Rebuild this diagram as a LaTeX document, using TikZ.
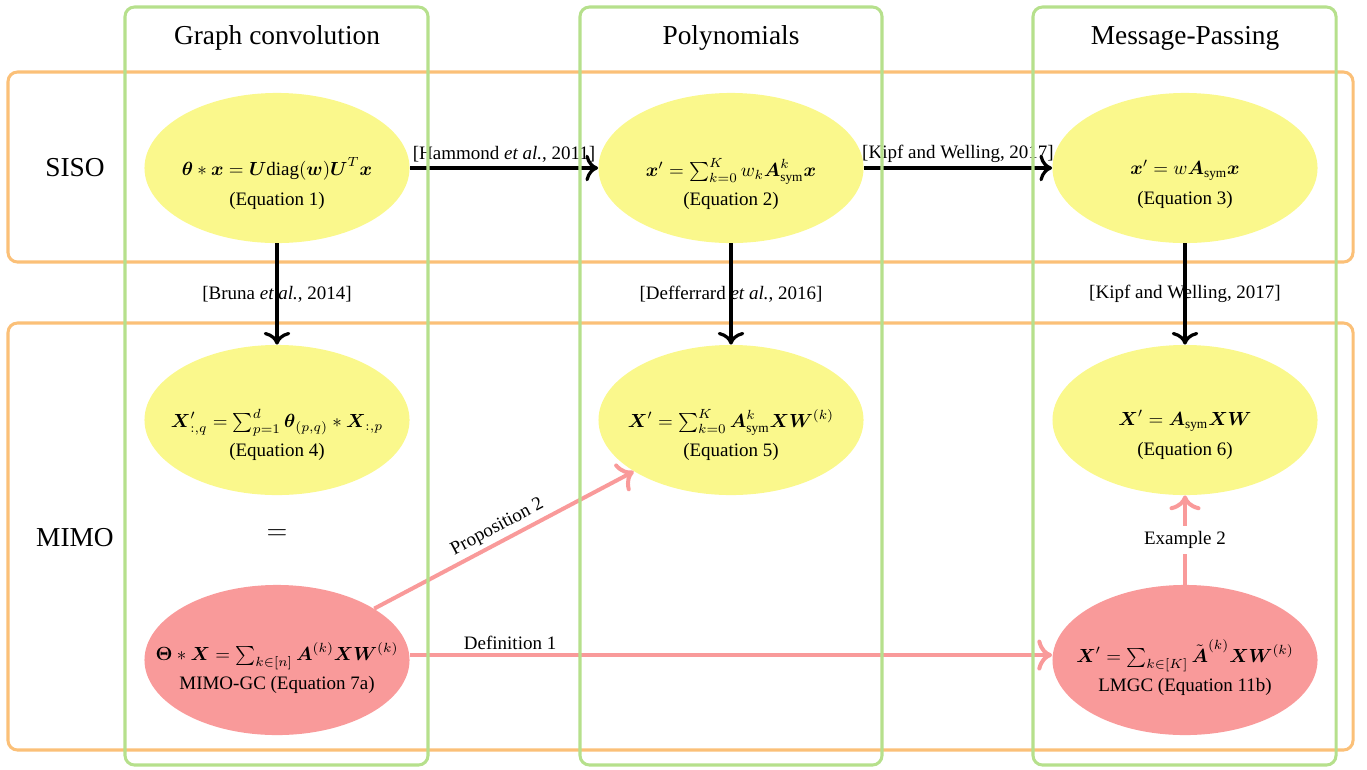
\documentclass[tikz,border=0pt]{standalone}
\usepackage{amsmath,amssymb}
\usepackage{fontspec}
\setmainfont{Liberation Serif}
\usetikzlibrary{shapes.geometric,arrows.meta}
\definecolor{colgreen}{RGB}{182,224,140}
\definecolor{roworange}{RGB}{251,192,120}
\definecolor{eqyellow}{RGB}{250,248,140}
\definecolor{eqred}{RGB}{249,154,154}
\newcommand{\bs}[1]{\boldsymbol{#1}}
\tikzset{
  colbox/.style={draw=colgreen, line width=1.6pt, rounded corners=5pt},
  rowbox/.style={draw=roworange, line width=1.6pt, rounded corners=5pt},
  yell/.style={ellipse, fill=eqyellow, draw=none, minimum width=139.5pt, minimum height=79pt, inner sep=0pt},
  redell/.style={ellipse, fill=eqred, draw=none, minimum width=139.5pt, minimum height=79pt, inner sep=0pt},
  eqtext/.style={align=center, inner sep=0pt, font=\normalsize},
  blackarr/.style={-{To[scale=1.25]}, line width=1.7pt, black},
  redarr/.style={-{To[scale=1.25]}, line width=2.1pt, eqred},
  lbl/.style={font=\normalsize, inner sep=2pt, text=black},
  title/.style={font=\Large}
}
\begin{document}
\begin{tikzpicture}[x=0.5263pt, y=-0.5263pt]
\useasboundingbox (0,0) rectangle (1367,769);
% rows
\draw[rowbox] (8,72) rectangle (1353,262);
\draw[rowbox] (8,323) rectangle (1353,750);
\node[title] (siso) at (75,168) {SISO};
\node[title] (mimo) at (75,538) {MIMO};
% titles
\node[title] (tgc) at (277,38) {Graph convolution};
\node[title] (tpo) at (731,38) {Polynomials};
\node[title] (tmp) at (1185,38) {Message-Passing};
% ellipses
\node[yell] (e1) at (277,168) {};
\node[yell] (e2) at (731,168) {};
\node[yell] (e3) at (1185,168) {};
\node[yell] (e4) at (277,420) {};
\node[yell] (e5) at (731,420) {};
\node[yell] (e6) at (1185,420) {};
\node[redell] (e7) at (277,660) {};
\node[redell] (e11) at (1185,660) {};
% texts
\node[eqtext] (t1) at (277,185) {\begin{tabular}{c}$\bs{\theta} * \bs{x} = \bs{U}\mathrm{diag}(\bs{w})\bs{U}^T\bs{x}$\\[4pt](Equation 1)\end{tabular}};
\node[eqtext] (t2) at (731,185) {\begin{tabular}{c}$\bs{x}' = \sum_{k=0}^{K} w_k \bs{A}_{\text{sym}}^{k}\bs{x}$\\[3pt](Equation 2)\end{tabular}};
\node[eqtext] (t3) at (1185,185) {\begin{tabular}{c}$\bs{x}' = w\bs{A}_{\text{sym}}\bs{x}$\\[4pt](Equation 3)\end{tabular}};
\node[eqtext] (t4) at (277,436) {\begin{tabular}{c}$\bs{X}'_{:,q} = \sum_{p=1}^{d} \bs{\theta}_{(p,q)} * \bs{X}_{:,p}$\\[3pt](Equation 4)\end{tabular}};
\node[eqtext] (t5) at (731,436) {\begin{tabular}{c}$\bs{X}' = \sum_{k=0}^{K} \bs{A}_{\text{sym}}^{k}\bs{X}\bs{W}^{(k)}$\\[3pt](Equation 5)\end{tabular}};
\node[eqtext] (t6) at (1185,436) {\begin{tabular}{c}$\bs{X}' = \bs{A}_{\text{sym}}\bs{X}\bs{W}$\\[4pt](Equation 6)\end{tabular}};
\node[eqtext] (t7) at (277,669) {\begin{tabular}{c}$\bs{\Theta} * \bs{X} = \sum_{k\in[n]} \bs{A}^{(k)}\bs{X}\bs{W}^{(k)}$\\[3pt]MIMO-GC (Equation 7a)\end{tabular}};
\node[eqtext] (t11) at (1185,669) {\begin{tabular}{c}$\bs{X}' = \sum_{k\in[K]} \tilde{\bs{A}}^{(k)}\bs{X}\bs{W}^{(k)}$\\[3pt]LMGC (Equation 11b)\end{tabular}};
\node[font=\Large] (eq) at (277,535) {$=$};
% black arrows
\draw[blackarr] (e1) -- node[lbl, above] {[Hammond \textit{et al.}, 2011]} (e2);
\draw[blackarr] (e2) -- node[lbl, above] {[Kipf and Welling, 2017]} (e3);
\draw[blackarr] (e1) -- node[lbl] {[Bruna \textit{et al.}, 2014]} (e4);
\draw[blackarr] (e2) -- node[lbl] {[Defferrard \textit{et al.}, 2016]} (e5);
\draw[blackarr] (e3) -- node[lbl] {[Kipf and Welling, 2017]} (e6);
% red arrows
\draw[redarr] (e7) -- node[lbl, above, sloped] {Proposition 2} (e5);
\draw[redarr] ([yshift=2.6pt]e7.east) -- node[lbl, above, pos=0.156] {Definition 1} ([yshift=2.6pt]e11.west);
\draw[redarr] (e11) -- node[lbl, fill=white, inner sep=3pt] {Example 2} (e6);
% columns on top
\draw[colbox] (125,7) rectangle (428,765);
\draw[colbox] (580,7) rectangle (882,765);
\draw[colbox] (1033,7) rectangle (1336,765);
\end{tikzpicture}
\end{document}
